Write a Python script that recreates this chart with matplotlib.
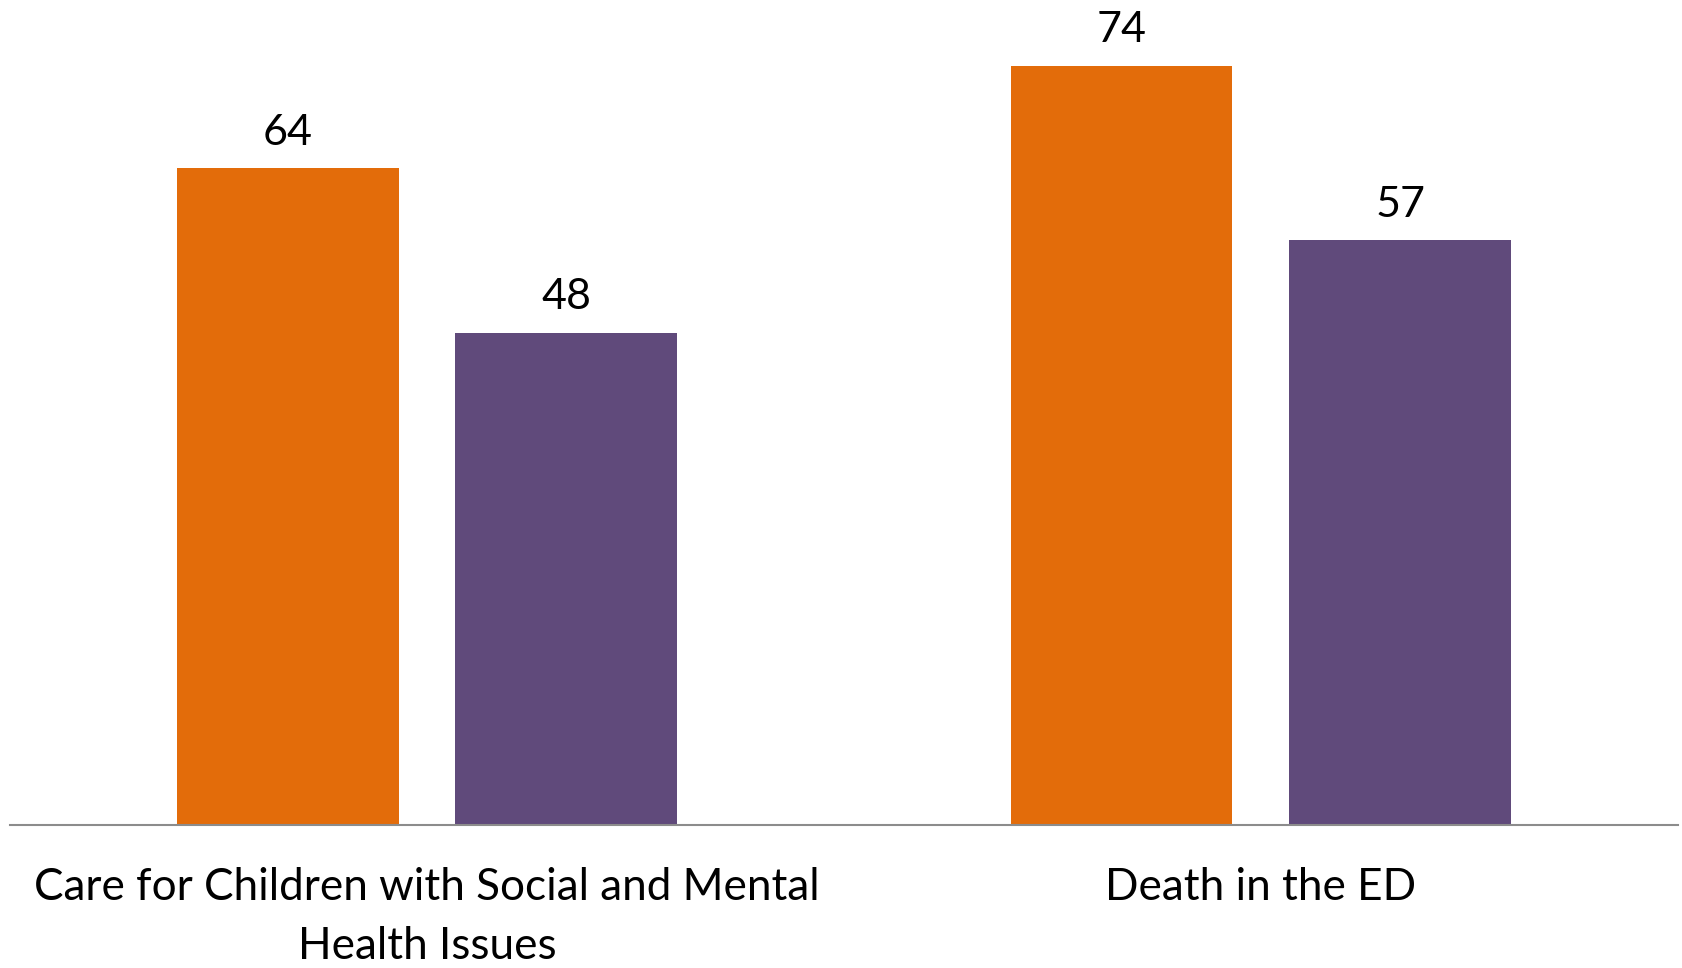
import matplotlib.pyplot as plt
import numpy as np

categories = ["Care for Children with Social and Mental\nHealth Issues", "Death in the ED"]
series_a = [64, 74]
series_b = [48, 57]

plt.rcParams["font.family"] = ["Lato", "DejaVu Sans"]

fig = plt.figure(figsize=(16.83, 9.68), dpi=100)
ax = fig.add_axes([0.0059, 0.1473, 0.991, 0.8527])

x = np.arange(len(categories))
width = 0.266
offset = 0.167

bars_a = ax.bar(x - offset, series_a, width, color="#E36C0A")
bars_b = ax.bar(x + offset, series_b, width, color="#604A7B")

for bars in (bars_a, bars_b):
    for b in bars:
        ax.annotate(f"{b.get_height():.0f}", (b.get_x() + b.get_width() / 2, b.get_height()),
                    xytext=(0, 17), textcoords="offset points",
                    ha="center", va="baseline", fontsize=31)

ax.set_xlim(-0.5, 1.5)
ax.set_ylim(0, 80.4)
ax.set_xticks(x)
ax.set_xticklabels(categories, fontsize=31.8, linespacing=1.55)
ax.tick_params(axis="x", length=0, pad=30)
ax.set_yticks([])
for side in ("top", "left", "right"):
    ax.spines[side].set_visible(False)
ax.spines["bottom"].set_color("#8C8C8C")
ax.spines["bottom"].set_linewidth(1.5)

fig.savefig("out.png", dpi=100)
